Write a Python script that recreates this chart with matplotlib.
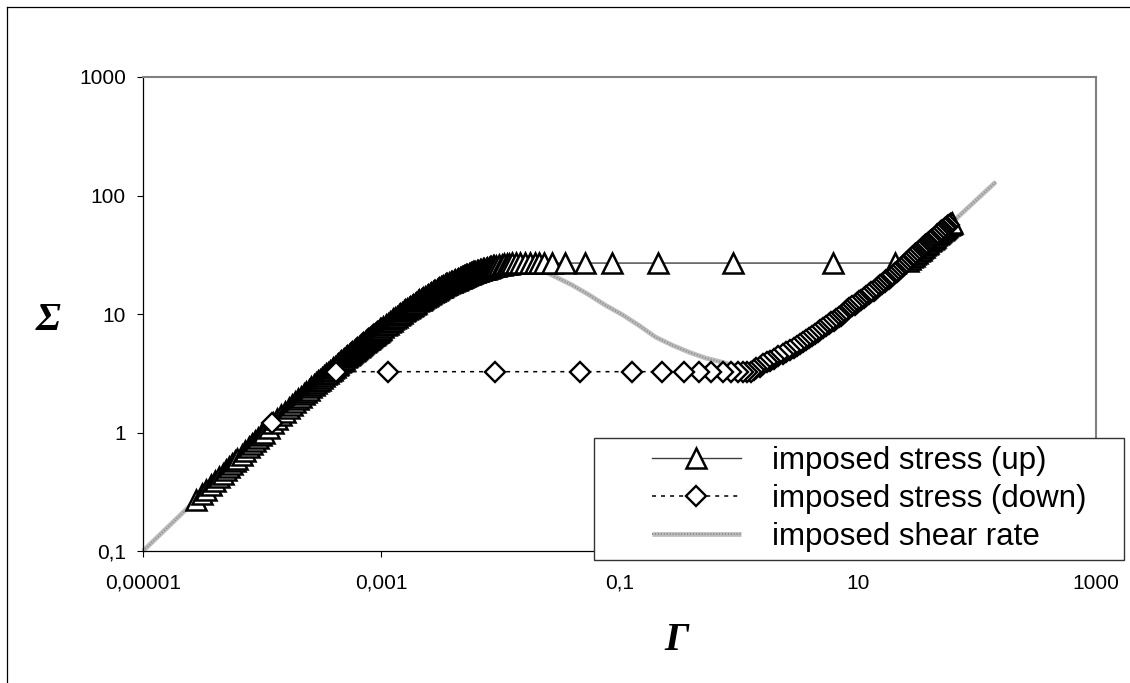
import matplotlib
matplotlib.use("Agg")
import matplotlib.pyplot as plt
from matplotlib.lines import Line2D
from matplotlib.patches import Rectangle
from matplotlib.legend_handler import HandlerTuple
from matplotlib.ticker import NullLocator

plt.rcParams['font.family'] = ['Liberation Sans', 'DejaVu Sans']
plt.rcParams['lines.scale_dashes'] = False

# ---------------- data ----------------
# imposed shear rate (constitutive curve)
rate_gamma = [1e-5, 3e-5, 1e-4, 3e-4, 6e-4, 1e-3, 1.6e-3, 2.3e-3, 3.5e-3, 6e-3,
              9e-3, 0.013, 0.018, 0.0236, 0.0398, 0.0555, 0.0757, 0.105, 0.146,
              0.2, 0.278, 0.386, 0.527, 0.64, 0.85, 1.1, 1.35, 1.6, 2.25, 3.65,
              5.1, 8.5, 15.6, 31, 60.5, 144]
rate_sigma = [0.1, 0.29, 0.97, 2.75, 5.0, 7.5, 10.8, 13.9, 17.8, 22.6,
              25.5, 27.0, 26.0, 22.8, 17.6, 14.5, 11.9, 9.9, 8.0,
              6.4, 5.45, 4.75, 4.25, 4.05, 3.75, 3.55, 3.5, 3.65, 4.5, 6.0,
              7.6, 11.2, 17.5, 32.5, 58, 130]

# imposed stress (up)
up_sigma = [
    0.27, 0.30, 0.33, 0.36, 0.39, 0.42, 0.45, 0.48, 0.51, 0.54, 0.57, 0.60,
    0.65, 0.70, 0.75, 0.80, 0.85, 0.90, 0.95, 1.0,
    1.1, 1.2, 1.3, 1.4, 1.5, 1.6, 1.7, 1.8, 1.9, 2.0, 2.1, 2.2, 2.3, 2.4, 2.5,
    2.6, 2.7, 2.8, 2.9, 3.0,
    3.1, 3.2, 3.3, 3.4, 3.5, 3.6, 3.7, 3.8, 3.9, 4.0, 4.1, 4.2, 4.3, 4.4, 4.5,
    4.6, 4.7, 4.8, 4.9, 5.0, 5.1, 5.2, 5.3, 5.4, 5.5, 5.6, 5.7, 5.8, 5.9, 6.0,
    6.1, 6.2, 6.3, 6.4, 6.5, 6.6, 6.7, 6.8, 6.9, 7.0, 7.1, 7.2, 7.3, 7.4, 7.5,
    7.75, 8.0, 8.25, 8.5, 8.75, 9.0, 9.25, 9.5, 9.75, 10.0, 10.25, 10.5, 10.75,
    11.0, 11.25, 11.5, 11.75, 12.0, 12.25, 12.5, 12.75, 13.0, 13.25, 13.5,
    13.75, 14.0, 14.25, 14.5, 14.75, 15.0, 15.25, 15.5, 15.75, 16.0, 16.25,
    16.5, 16.75, 17.0, 17.25, 17.5, 17.75, 18.0, 18.25, 18.5, 18.75, 19.0,
    19.25, 19.5, 19.75, 20.0,
    20.2, 20.4, 20.6, 20.8, 21.0, 21.2, 21.4, 21.6, 21.8, 22.0, 22.2, 22.4,
    22.6, 22.8, 23.0, 23.2, 23.4, 23.6, 23.8, 24.0, 24.2, 24.4, 24.6, 24.8,
    25.0, 25.2, 25.4, 25.6, 25.8, 26.0, 26.2, 26.4, 26.6, 26.8,
    26.9, 26.9, 26.9, 26.9, 26.9, 26.9, 26.9, 26.9, 26.9, 26.9, 26.9,
    26.9, 26.9, 26.9, 26.9,
    28, 29, 30, 31, 32, 33, 34, 35, 36, 37, 38, 39, 40, 41, 42, 43, 44,
    45, 46, 47, 48, 49, 50, 51, 52, 53, 54, 55, 56, 57, 58, 58.6]
up_gamma = [
    2.79e-5, 3.10e-5, 3.41e-5, 3.72e-5, 4.03e-5, 4.34e-5, 4.65e-5, 4.96e-5,
    5.27e-5, 5.58e-5, 5.89e-5, 6.20e-5,
    6.72e-5, 7.24e-5, 7.75e-5, 8.27e-5, 8.79e-5, 9.30e-5, 9.82e-5, 1.03e-4,
    1.136e-4, 1.24e-4, 1.345e-4, 1.452e-4, 1.57e-4, 1.68e-4, 1.79e-4, 1.90e-4,
    2.01e-4, 2.12e-4, 2.23e-4, 2.34e-4, 2.46e-4, 2.58e-4, 2.70e-4, 2.82e-4,
    2.94e-4, 3.06e-4, 3.18e-4, 3.30e-4,
    3.43e-4, 3.55e-4, 3.70e-4, 3.83e-4, 3.96e-4, 4.09e-4, 4.23e-4, 4.36e-4,
    4.49e-4, 4.62e-4, 4.76e-4, 4.90e-4, 5.04e-4, 5.17e-4, 5.31e-4, 5.45e-4,
    5.59e-4, 5.72e-4, 5.86e-4, 6.00e-4, 6.15e-4, 6.30e-4, 6.46e-4, 6.61e-4,
    6.77e-4, 6.92e-4, 7.08e-4, 7.24e-4, 7.39e-4, 7.55e-4, 7.71e-4, 7.87e-4,
    8.03e-4, 8.19e-4, 8.35e-4, 8.51e-4, 8.68e-4, 8.85e-4, 9.01e-4, 9.18e-4,
    9.34e-4, 9.51e-4, 9.67e-4, 9.84e-4, 1.0e-3,
    1.043e-3, 1.087e-3, 1.131e-3, 1.175e-3, 1.22e-3, 1.265e-3, 1.311e-3,
    1.357e-3, 1.403e-3, 1.449e-3, 1.496e-3, 1.543e-3, 1.591e-3, 1.642e-3,
    1.696e-3, 1.75e-3, 1.805e-3, 1.86e-3, 1.916e-3, 1.972e-3, 2.028e-3,
    2.085e-3, 2.143e-3, 2.201e-3, 2.26e-3, 2.328e-3, 2.399e-3, 2.472e-3,
    2.545e-3, 2.619e-3, 2.693e-3, 2.768e-3, 2.845e-3, 2.922e-3, 2.999e-3,
    3.078e-3, 3.157e-3, 3.238e-3, 3.319e-3, 3.401e-3, 3.485e-3, 3.589e-3,
    3.702e-3, 3.817e-3, 3.934e-3, 4.053e-3, 4.174e-3, 4.298e-3, 4.423e-3,
    4.55e-3,
    4.65e-3, 4.757e-3, 4.86e-3, 4.968e-3, 5.075e-3, 5.184e-3, 5.295e-3,
    5.409e-3, 5.52e-3, 5.637e-3, 5.752e-3, 5.87e-3, 6.0e-3, 6.177e-3, 6.36e-3,
    6.545e-3, 6.734e-3, 6.927e-3, 7.125e-3, 7.326e-3, 7.53e-3, 7.738e-3,
    7.95e-3, 8.166e-3, 8.387e-3, 8.61e-3, 8.84e-3, 9.24e-3, 9.73e-3, 1.027e-2,
    1.08e-2, 1.131e-2, 1.19e-2, 1.25e-2,
    0.0135, 0.0145, 0.016, 0.0177, 0.0194, 0.0212, 0.0231, 0.027, 0.0348,
    0.0513, 0.0867, 0.211, 0.889, 6.2, 20.7,
    26.6, 27.6, 28.6, 29.55, 30.5, 31.55, 32.6, 33.7, 34.8, 35.9, 37.0,
    38.1, 39.2, 40.3, 41.4, 42.5, 43.6, 44.7, 45.8, 46.95, 48.1, 49.25,
    50.4, 51.6, 52.8, 54.0, 55.2, 56.5, 57.8, 59.1, 60.4, 61.4]

# imposed stress (down)
down_sigma = [
    56, 54.5, 53, 51.5, 50, 48.5, 47, 45.5, 44, 42.5, 41, 40, 39, 38, 37, 36,
    35, 34, 33, 32, 31, 30, 29, 28, 27, 26, 25.2, 24.4, 23.6, 22.8, 22, 21.3,
    20.6, 19.9, 19.2, 18.6, 18, 17.4, 16.8, 16.2, 15.7, 15.2, 14.7, 14.2,
    13.7, 13.2, 12.8, 12.4, 12, 11.6, 11.2, 10.8, 10.4, 10.0, 9.7, 9.4, 9.1,
    8.8, 8.5, 8.2, 7.9, 7.6, 7.3, 7.0, 6.75, 6.5, 6.25, 6.0, 5.8, 5.6, 5.4,
    5.2, 5.0, 4.8, 4.6, 4.4, 4.2, 4.05, 3.9, 3.75, 3.6, 3.48, 3.37,
    3.26, 3.26, 3.26, 3.26, 3.26, 3.26, 3.26, 3.26, 3.26, 3.26, 3.26,
    3.26, 3.26, 3.26, 3.26, 1.2]
down_gamma = [
    57.8, 55.9, 54.0, 52.2, 50.4, 48.7, 46.9, 45.3, 43.6, 41.9, 40.3, 39.2,
    38.1, 37.0, 35.9, 34.8, 33.7, 32.6, 31.5, 30.5, 29.6, 28.6, 27.6, 26.6,
    25.6, 24.6, 23.8, 22.9, 22.1, 21.2, 20.4, 19.6, 18.9, 18.2, 17.4, 16.8,
    16.1, 15.5, 14.9, 14.2, 13.6, 13.0, 12.4, 11.8, 11.2, 10.6, 10.2, 9.8,
    9.4, 8.95, 8.5, 8.15, 7.8, 7.45, 7.2, 6.9, 6.6, 6.3, 6.0, 5.7, 5.4, 5.1,
    4.85, 4.6, 4.35, 4.1, 3.87, 3.65, 3.46, 3.28, 3.09, 2.9, 2.71, 2.52,
    2.34, 2.16, 1.98, 1.85, 1.73, 1.61, 1.5, 1.41, 1.34,
    1.26, 1.17, 1.08, 0.98, 0.857, 0.733, 0.591, 0.469, 0.351, 0.229,
    0.128, 0.0466, 8.93e-3, 1.14e-3, 4.16e-4, 1.22e-4]

x_ticks = [1e-5, 1e-3, 1e-1, 1e1, 1e3]
x_tick_labels = ['0,00001', '0,001', '0,1', '10', '1000']
y_ticks = [0.1, 1, 10, 100, 1000]
y_tick_labels = ['0,1', '1', '10', '100', '1000']
series_labels = ['imposed stress (up)', 'imposed stress (down)', 'imposed shear rate']
x_label = 'Γ'
y_label = 'Σ'

# ---------------- figure ----------------
W, H = 1130, 683
fig = plt.figure(figsize=(W / 100, H / 100), dpi=100)
fig.patch.set_facecolor('white')

ax = fig.add_axes([143 / W, 1 - 551 / H, (1096 - 143) / W, (551 - 77) / H])
ax.set_xscale('log')
ax.set_yscale('log')
ax.set_xlim(1e-5, 1e3)
ax.set_ylim(0.1, 1000)

g_base, = ax.plot(rate_gamma, rate_sigma, color='#bdbdbd', lw=3.4,
                  solid_capstyle='butt', zorder=2, clip_on=False)
g_dot, = ax.plot(rate_gamma, rate_sigma, color='#8c8c8c', lw=1.4,
                 linestyle=(0, (0.8, 1.3)), zorder=2.1, clip_on=False)

up_line, = ax.plot(up_gamma, up_sigma, color='#404040', lw=1.0,
                   marker='^', ms=15, mfc='white', mec='black', mew=1.8,
                   zorder=3, clip_on=False)
down_line, = ax.plot(down_gamma, down_sigma, color='black', lw=1.1,
                     linestyle=(0, (2.9, 3.6)),
                     marker='D', ms=10.5, mfc='white', mec='black', mew=1.7,
                     zorder=4, clip_on=False)

ax.set_xticks(x_ticks)
ax.set_xticklabels(x_tick_labels)
ax.set_yticks(y_ticks)
ax.set_yticklabels(y_tick_labels)
ax.xaxis.set_minor_locator(NullLocator())
ax.yaxis.set_minor_locator(NullLocator())
ax.tick_params(axis='both', direction='out', length=4.3, width=0.8,
               colors='black', labelsize=15)
ax.tick_params(axis='x', pad=12)
ax.tick_params(axis='y', pad=8)

for s in ['left', 'bottom']:
    ax.spines[s].set_color('black')
    ax.spines[s].set_linewidth(0.9)
for s in ['top', 'right']:
    ax.spines[s].set_color('#808080')
    ax.spines[s].set_linewidth(1.5)

# axis labels
fig.text(677 / W, 1 - 650 / H, x_label, fontsize=29, family='Liberation Serif',
         weight='bold', style='italic', ha='center', va='baseline')
fig.text(48 / W, 1 - 330 / H, y_label, fontsize=29, family='Liberation Serif',
         weight='bold', style='italic', ha='center', va='baseline')

# legend box
box = Rectangle((594 / W, 1 - 560 / H), (1124 - 594) / W, (560 - 438) / H,
                transform=fig.transFigure, facecolor='white',
                edgecolor='#333333', lw=1.0, zorder=3)
fig.add_artist(box)

leg = fig.legend([up_line, down_line, (g_base, g_dot)], series_labels,
                 handler_map={tuple: HandlerTuple(ndivide=1, pad=0)},
                 loc='upper left', bbox_to_anchor=(652 / W, 1 - 446 / H),
                 frameon=False, borderpad=0, borderaxespad=0,
                 handlelength=2.84, handletextpad=1.0, labelspacing=0.26,
                 fontsize=22.5, numpoints=1)
leg.set_zorder(5)

# outer frame (left and top edges)
fig.add_artist(Line2D([7 / W, 7 / W], [0, 1 - 7 / H], transform=fig.transFigure,
                      color='black', lw=0.9))
fig.add_artist(Line2D([7 / W, 1], [1 - 7 / H, 1 - 7 / H], transform=fig.transFigure,
                      color='black', lw=0.9))

fig.savefig('out.png', dpi=100, facecolor='white')
